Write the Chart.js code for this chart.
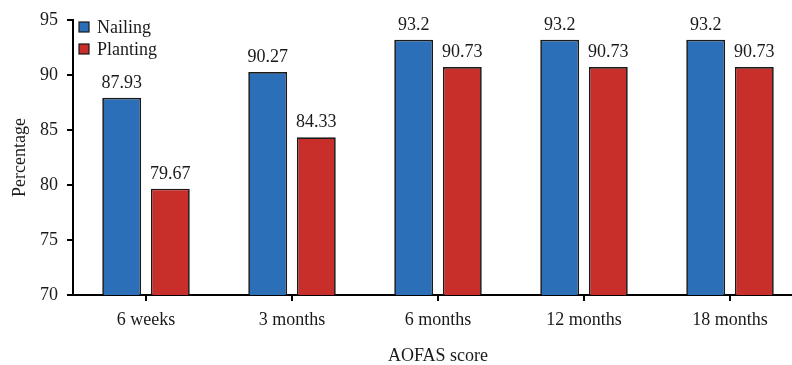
<!DOCTYPE html>
<html lang="en">
<head>
    <meta charset="UTF-8">
    <title>AOFAS score</title>
    <style>
        html, body {
            margin: 0;
            padding: 0;
            background: #fff;
            overflow: hidden;
            width: 792px;
            height: 365px;
        }
        canvas {
            display: block;
        }
    </style>
    <script src="https://cdn.jsdelivr.net/npm/chart.js"></script>
</head>
<body>
    <canvas id="aofas-chart" width="803" height="365"></canvas>

    <script>
        // data
        const categories = ['6 weeks', '3 months', '6 months', '12 months', '18 months'];
        const nailing = [87.93, 90.27, 93.2, 93.2, 93.2];
        const planting = [79.67, 84.33, 90.73, 90.73, 90.73];
        const yTicks = [70, 75, 80, 85, 90, 95];

        const serif = '"Liberation Serif", "Times New Roman", serif';
        const ink = '#1a1a1a';

        // values printed above each bar
        const barLabels = {
            id: 'barLabels',
            afterDatasetsDraw(chart) {
                const ctx = chart.ctx;
                ctx.save();
                ctx.font = '18px ' + serif;
                ctx.fillStyle = ink;
                ctx.textAlign = 'center';
                ctx.textBaseline = 'alphabetic';
                chart.data.datasets.forEach((ds, i) => {
                    chart.getDatasetMeta(i).data.forEach((bar, j) => {
                        ctx.fillText(String(ds.data[j]), bar.x, bar.y - 10);
                    });
                });
                ctx.restore();
            }
        };

        // legend sitting inside the plot, top left
        const insideLegend = {
            id: 'insideLegend',
            afterDraw(chart) {
                const ctx = chart.ctx;
                const area = chart.chartArea;
                ctx.save();
                ctx.font = '18px ' + serif;
                ctx.textBaseline = 'middle';
                chart.data.datasets.forEach((ds, i) => {
                    const x = area.left + 6;
                    const y = area.top + 7 + i * 22;
                    ctx.fillStyle = ds.backgroundColor;
                    ctx.fillRect(x, y - 5, 10, 10);
                    ctx.strokeStyle = ink;
                    ctx.lineWidth = 1.2;
                    ctx.strokeRect(x, y - 5, 10, 10);
                    ctx.fillStyle = ink;
                    ctx.fillText(ds.label, x + 18, y + 1);
                });
                ctx.restore();
            }
        };

        const ctx = document.getElementById('aofas-chart').getContext('2d');
        new Chart(ctx, {
            type: 'bar',
            data: {
                labels: categories,
                datasets: [{
                    label: 'Nailing',
                    data: nailing,
                    backgroundColor: '#2a6fb7',
                    borderColor: ink,
                    borderWidth: 1.7,
                    borderSkipped: false
                }, {
                    label: 'Planting',
                    data: planting,
                    backgroundColor: '#c82f2b',
                    borderColor: ink,
                    borderWidth: 1.7,
                    borderSkipped: false
                }]
            },
            options: {
                responsive: false,
                animation: false,
                devicePixelRatio: 1,
                categoryPercentage: 0.666,
                barPercentage: 0.8,
                layout: {
                    padding: { top: 20, right: 0, bottom: 0, left: 0 }
                },
                plugins: {
                    legend: { display: false },
                    tooltip: { enabled: false }
                },
                scales: {
                    x: {
                        afterFit(scale) { scale.height = 70; },
                        grid: {
                            offset: false,
                            drawOnChartArea: false,
                            drawTicks: true,
                            tickLength: 6,
                            color: '#000',
                            lineWidth: 2
                        },
                        border: { color: '#000', width: 2 },
                        ticks: {
                            font: { family: serif, size: 18 },
                            color: ink,
                            padding: 8,
                            maxRotation: 0
                        },
                        title: {
                            display: true,
                            text: 'AOFAS score',
                            font: { family: serif, size: 18 },
                            color: ink,
                            padding: { top: 0, bottom: -2 }
                        }
                    },
                    y: {
                        min: yTicks[0],
                        max: yTicks[yTicks.length - 1],
                        afterFit(scale) { scale.width = 73; },
                        afterBuildTicks(scale) {
                            scale.ticks = yTicks.map(v => ({ value: v }));
                        },
                        grid: {
                            drawOnChartArea: false,
                            drawTicks: true,
                            tickLength: 6,
                            color: '#000',
                            lineWidth: 2
                        },
                        border: { color: '#000', width: 2 },
                        ticks: {
                            font: { family: serif, size: 18 },
                            color: ink,
                            padding: 9
                        },
                        title: {
                            display: true,
                            text: 'Percentage',
                            font: { family: serif, size: 18 },
                            color: ink,
                            padding: { top: 9, bottom: 0 }
                        }
                    }
                }
            },
            plugins: [barLabels, insideLegend]
        });
    </script>
</body>
</html>
